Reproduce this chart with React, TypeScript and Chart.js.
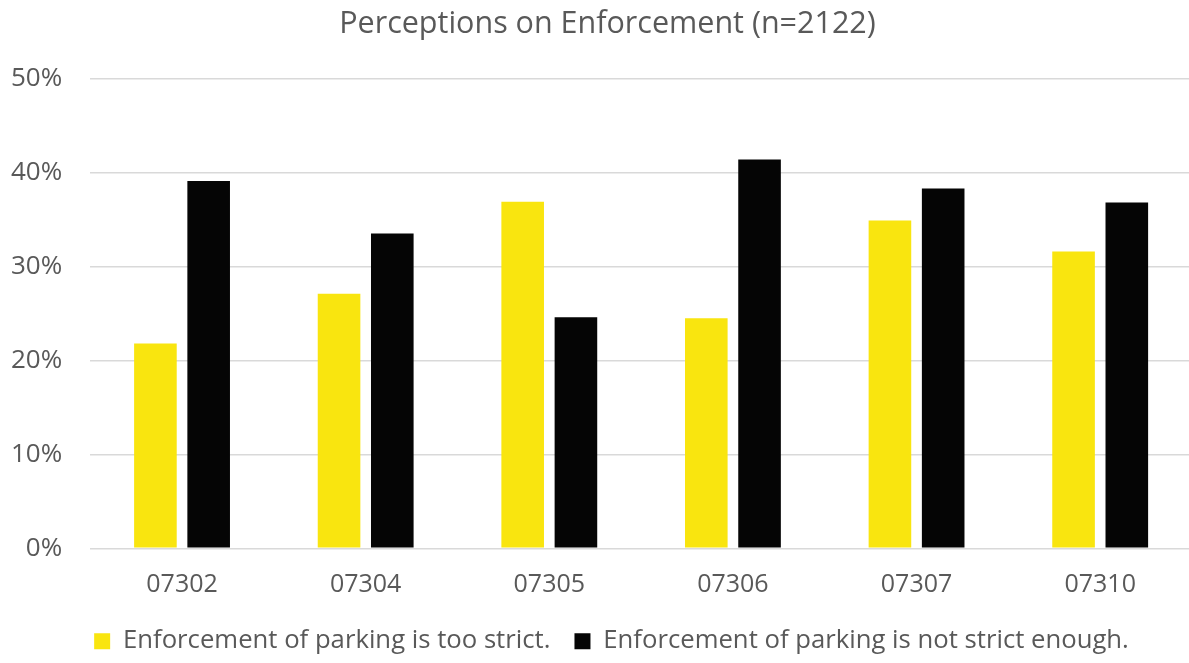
import React, { useEffect, useRef } from "react";
import { Chart, registerables } from "chart.js";

Chart.register(...registerables);

const categories = ["07302", "07304", "07305", "07306", "07307", "07310"];
const tooStrict = [21.8, 27.1, 36.9, 24.5, 34.9, 31.6];
const notStrictEnough = [39.1, 33.5, 24.6, 41.4, 38.3, 36.8];
const seriesNames = [
  "Enforcement of parking is too strict.",
  "Enforcement of parking is not strict enough.",
];
const titleText = "Perceptions on Enforcement (n=2122)";

const FONT = "'Open Sans', sans-serif";
const GRAY = "#595959";

const LEGEND_SHIFT = { dx: 24, dy: -18, dh: 19 };
const TITLE_SHIFT = { dx: 20, dy: 0, dh: 0 };

function patchBox(box: any, s: { dx: number; dy: number; dh: number }) {
  if (!box || box.__patched) return;
  if (s.dh && typeof box.fit === "function") {
    const fit = box.fit.bind(box);
    box.fit = function () {
      fit();
      this.height -= s.dh;
    };
  }
  if (typeof box.draw === "function") {
    const draw = box.draw.bind(box);
    box.draw = function () {
      const saved = {
        left: this.left,
        right: this.right,
        top: this.top,
        bottom: this.bottom,
        height: this.height,
      };
      const hb = (this.legendHitBoxes || []).map((b: any) => ({ left: b.left, top: b.top }));
      this.left += s.dx;
      this.right += s.dx;
      this.top += s.dy;
      this.bottom += s.dy + s.dh + 20;
      this.height += s.dh + 20;
      (this.legendHitBoxes || []).forEach((b: any) => {
        b.left += s.dx;
        b.top += s.dy;
      });
      draw();
      Object.assign(this, saved);
      (this.legendHitBoxes || []).forEach((b: any, i: number) => {
        b.left = hb[i].left;
        b.top = hb[i].top;
      });
    };
  }
  box.__patched = true;
}

const shiftPlugin = {
  id: "shiftPlugin",
  beforeUpdate(chart: any) {
    patchBox(chart.legend, LEGEND_SHIFT);
    patchBox(chart.titleBlock, TITLE_SHIFT);
  },
};

export default function App() {
  const ref = useRef<HTMLCanvasElement | null>(null);
  useEffect(() => {
    document.body.style.margin = "0";
    const ctx = ref.current!;
    const chart = new Chart(ctx, {
      type: "bar",
      data: {
        labels: categories,
        datasets: [
          {
            label: seriesNames[0],
            data: tooStrict,
            backgroundColor: "#F9E50F",
            categoryPercentage: 0.58,
            barPercentage: 0.8,
          },
          {
            label: seriesNames[1],
            data: notStrictEnough,
            backgroundColor: "#050505",
            categoryPercentage: 0.58,
            barPercentage: 0.8,
          },
        ],
      },
      plugins: [shiftPlugin],
      options: {
        responsive: false,
        animation: false,
        layout: { padding: { left: 0, right: 24, top: 0, bottom: 0 } },
        plugins: {
          title: {
            display: true,
            text: titleText,
            color: GRAY,
            font: { family: FONT, size: 30.5, weight: "normal" },
            padding: { top: 6, bottom: 36 },
          },
          legend: {
            position: "bottom",
            labels: {
              color: GRAY,
              font: { family: FONT, size: 25.7 },
              boxWidth: 16,
              boxHeight: 16,
              padding: 24,
            },
          },
          tooltip: { enabled: false },
        },
        scales: {
          x: {
            grid: { display: false, drawTicks: false },
            border: { display: false },
            ticks: {
              color: GRAY,
              font: { family: FONT, size: 25 },
              padding: 22,
            },
          },
          y: {
            min: 0,
            max: 50,
            grid: { color: "#d9d9d9", lineWidth: 1.5, drawTicks: false },
            border: { display: false },
            ticks: {
              stepSize: 10,
              color: GRAY,
              font: { family: FONT, size: 26 },
              padding: 28,
              callback: (v: any) => v + "%",
            },
          },
        },
      },
    });
    return () => chart.destroy();
  }, []);
  return (
    <div style={{ width: 1189, height: 663, overflow: "hidden", background: "#fff" }}>
      <canvas
        ref={ref}
        width={1233}
        height={663}
        style={{ display: "block", marginLeft: -17 }}
      />
    </div>
  );
}
